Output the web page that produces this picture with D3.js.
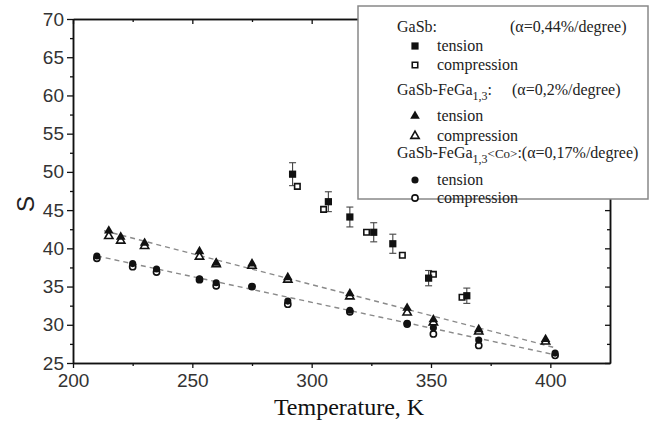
<!DOCTYPE html>
<html><head><meta charset="utf-8">
<script src="https://cdn.jsdelivr.net/npm/d3@7"></script>
<style>body{margin:0;background:#fff}</style>
</head><body><svg id="c" width="658" height="427"></svg>
<script>
// ---- data ----
const gasbTensionX = [292, 307, 316, 326, 334, 349, 365];
const gasbTensionY = [49.7, 46.1, 44.1, 42.1, 40.6, 36.1, 33.8];
const gasbTensionErr = [1.5, 1.3, 1.3, 1.25, 1.25, 1.0, 1.0];
const gasbCompX = [294, 305, 323, 338, 351, 363];
const gasbCompY = [48.1, 45.1, 42.1, 39.1, 36.6, 33.6];

const fegaX = [215, 220, 230, 253, 260, 275, 290, 316, 340, 351, 370, 398];
const fegaTensionY = [42.3, 41.5, 40.7, 39.6, 38.1, 38.0, 36.2, 34.1, 32.2, 30.7, 29.4, 28.1];
const fegaCompY = [41.6, 41.0, 40.3, 38.9, 37.9, 37.7, 35.9, 33.7, 31.6, 30.3, 29.1, 27.8];

const coX = [210, 225, 235, 253, 260, 275, 290, 316, 340, 351, 370, 402];
const coTensionY = [39.0, 38.0, 37.3, 36.0, 35.5, 35.0, 33.1, 31.9, 30.2, 29.6, 28.0, 26.3];
const coCompY = [38.7, 37.6, 36.9, 35.9, 35.1, 35.0, 32.7, 31.7, 30.1, 28.8, 27.3, 26.0];

const fitFegaX = [213, 402];
const fitFegaY = [42.3, 27.0];
const fitCoX = [210, 403];
const fitCoY = [39.0, 26.0];

const xTicks = [200, 250, 300, 350, 400];
const xMinorTicks = [225, 275, 325, 375];
const yTicks = [25, 30, 35, 40, 45, 50, 55, 60, 65, 70];
const yMinorTicks = [27.5, 32.5, 37.5, 42.5, 47.5, 52.5, 57.5, 62.5, 67.5];
const xTitle = "Temperature, K";
const yTitle = "S";

// ---- chart ----
const svg = d3.select("#c");
const L = 73, R = 610, T = 19, B = 363;
const x = d3.scaleLinear().domain([200, 425]).range([L, R]);
const y = d3.scaleLinear().domain([25, 70]).range([B, T]);

function styleAxis(g) {
  g.select(".domain").attr("stroke", "#111").attr("stroke-width", 1.5);
  g.selectAll(".tick line").attr("stroke", "#111").attr("stroke-width", 1.3);
  g.selectAll(".tick text").attr("fill", "#333")
    .style("font-family", "'Liberation Sans', Arial, sans-serif").style("font-size", "19px");
}

// left
svg.append("g").attr("transform", `translate(${L},0)`)
  .call(d3.axisLeft(y).tickValues(yTicks).tickSize(6).tickPadding(3).tickSizeOuter(0))
  .call(styleAxis);
svg.append("g").attr("transform", `translate(${L},0)`)
  .call(d3.axisLeft(y).tickValues(yMinorTicks).tickSize(3).tickFormat("").tickSizeOuter(0))
  .call(styleAxis);
// bottom
svg.append("g").attr("transform", `translate(0,${B})`)
  .call(d3.axisBottom(x).tickValues(xTicks).tickSize(5).tickPadding(6).tickSizeOuter(0))
  .call(styleAxis);
svg.append("g").attr("transform", `translate(0,${B})`)
  .call(d3.axisBottom(x).tickValues(xMinorTicks).tickSize(3).tickFormat("").tickSizeOuter(0))
  .call(styleAxis);
// right (ticks inward)
svg.append("g").attr("transform", `translate(${R},0)`)
  .call(d3.axisLeft(y).tickValues(yTicks).tickSize(5).tickFormat("").tickSizeOuter(0))
  .call(styleAxis);
svg.append("g").attr("transform", `translate(${R},0)`)
  .call(d3.axisLeft(y).tickValues(yMinorTicks).tickSize(3).tickFormat("").tickSizeOuter(0))
  .call(styleAxis);
// top (ticks inward)
svg.append("g").attr("transform", `translate(0,${T})`)
  .call(d3.axisBottom(x).tickValues(xTicks).tickSize(5).tickFormat("").tickSizeOuter(0))
  .call(styleAxis);
svg.append("g").attr("transform", `translate(0,${T})`)
  .call(d3.axisBottom(x).tickValues(xMinorTicks).tickSize(3).tickFormat("").tickSizeOuter(0))
  .call(styleAxis);

// titles
svg.append("text").attr("x", 349).attr("y", 415).attr("text-anchor", "middle")
  .style("font-family", "'Liberation Serif', 'Times New Roman', serif").style("font-size", "24px")
  .attr("fill", "#111").text(xTitle);
svg.append("text").attr("transform", "translate(34,204) rotate(-90)").attr("text-anchor", "middle")
  .style("font-family", "'Liberation Sans', Arial, sans-serif").style("font-size", "24px")
  .attr("fill", "#222").text(yTitle);

// fit lines
const line = d3.line().x(d => x(d[0])).y(d => y(d[1]));
[[fitFegaX, fitFegaY], [fitCoX, fitCoY]].forEach(([xs, ys]) => {
  svg.append("path").datum(xs.map((v, i) => [v, ys[i]])).attr("d", line)
    .attr("fill", "none").attr("stroke", "#8a8a8a").attr("stroke-width", 1.4)
    .attr("stroke-dasharray", "5,4");
});

// error bars
const eb = svg.append("g").attr("stroke", "#444").attr("stroke-width", 1.1);
gasbTensionX.forEach((xv, i) => {
  const cx = x(xv), y1 = y(gasbTensionY[i] + gasbTensionErr[i]), y2 = y(gasbTensionY[i] - gasbTensionErr[i]);
  eb.append("line").attr("x1", cx).attr("x2", cx).attr("y1", y1).attr("y2", y2);
  eb.append("line").attr("x1", cx - 3.5).attr("x2", cx + 3.5).attr("y1", y1).attr("y2", y1);
  eb.append("line").attr("x1", cx - 3.5).attr("x2", cx + 3.5).attr("y1", y2).attr("y2", y2);
});

const shapes = {
  sq: d3.symbol().type(d3.symbolSquare).size(52)(),
  sqo: d3.symbol().type(d3.symbolSquare).size(30)(),
  tri: d3.symbol().type(d3.symbolTriangle).size(40)(),
  trio: d3.symbol().type(d3.symbolTriangle).size(30)(),
  ci: d3.symbol().type(d3.symbolCircle).size(40)(),
  cio: d3.symbol().type(d3.symbolCircle).size(30)()
};
function marks(xs, ys, shape, open) {
  svg.append("g").selectAll("path").data(xs.map((v, i) => [v, ys[i]])).join("path")
    .attr("transform", d => `translate(${x(d[0])},${y(d[1])})`)
    .attr("d", shapes[shape])
    .attr("fill", open ? "#fff" : "#111")
    .attr("stroke", "#111").attr("stroke-width", open ? 1.6 : 0);
}
marks(fegaX, fegaCompY, "trio", true);
marks(fegaX, fegaTensionY, "tri", false);
marks(coX, coCompY, "cio", true);
marks(coX, coTensionY, "ci", false);
marks(gasbCompX, gasbCompY, "sqo", true);
marks(gasbTensionX, gasbTensionY, "sq", false);

// legend
const lg = svg.append("g");
lg.append("rect").attr("x", 358).attr("y", 6).attr("width", 290).attr("height", 193)
  .attr("fill", "#fff").attr("stroke", "#888").attr("stroke-width", 1.5);
const serif = "'Liberation Serif', 'Times New Roman', serif";
function ltext(xp, yp) {
  return lg.append("text").attr("x", xp).attr("y", yp).attr("fill", "#222")
    .style("font-family", serif).style("font-size", "16px");
}
ltext(397, 32).text("GaSb:");
ltext(510, 32).text("(α=0,44%/degree)");
let t2 = ltext(397, 95);
t2.append("tspan").text("GaSb-FeGa");
t2.append("tspan").attr("dy", 5).style("font-size", "12px").text("1,3");
t2.append("tspan").attr("dy", -5).text(":");
ltext(512, 95).text("(α=0,2%/degree)");
let t3 = ltext(397, 158);
t3.append("tspan").text("GaSb-FeGa");
t3.append("tspan").attr("dy", 5).style("font-size", "12px").text("1,3");
t3.append("tspan").attr("dy", -5).style("font-size", "13px").text("<Co>");
t3.append("tspan").text(":(α=0,17%/degree)");

const legendItems = [
  { sh: "sq", open: false, label: "tension", yp: 46 },
  { sh: "sqo", open: true, label: "compression", yp: 65 },
  { sh: "tri", open: false, label: "tension", yp: 116 },
  { sh: "trio", open: true, label: "compression", yp: 136 },
  { sh: "ci", open: false, label: "tension", yp: 180 },
  { sh: "cio", open: true, label: "compression", yp: 198 }
];
legendItems.forEach(it => {
  lg.append("path").attr("transform", `translate(415,${it.yp})`).attr("d", shapes[it.sh])
    .attr("fill", it.open ? "#fff" : "#111").attr("stroke", "#111").attr("stroke-width", it.open ? 1.6 : 0);
  ltext(437, it.yp + 5).text(it.label);
});
</script>
</body></html>
